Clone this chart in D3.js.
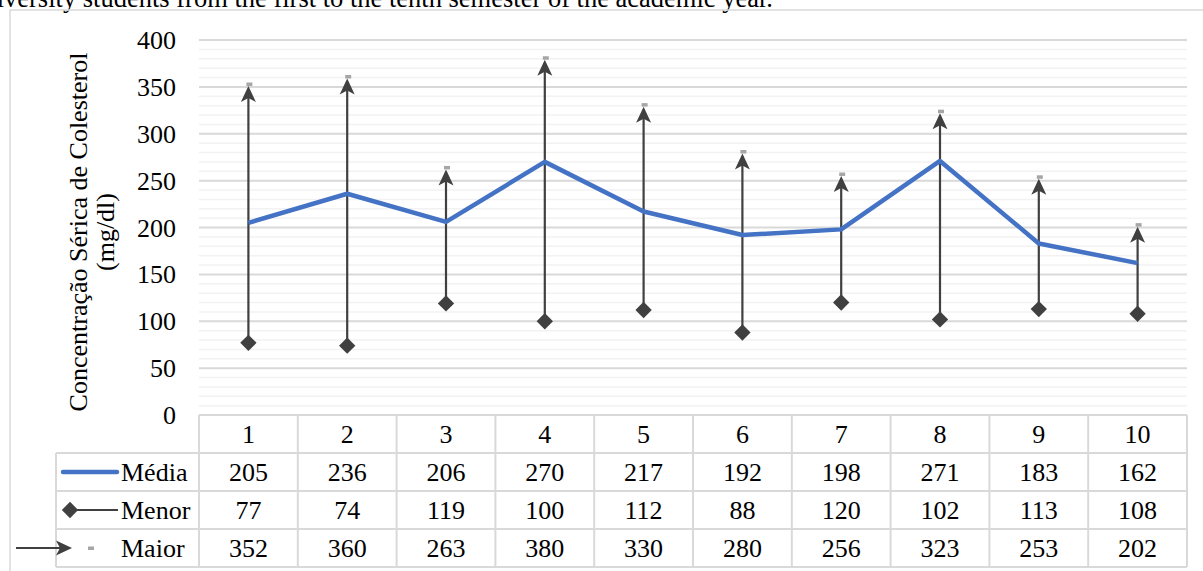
<!DOCTYPE html>
<html>
<head>
<meta charset="utf-8">
<script src="https://cdn.jsdelivr.net/npm/d3@7"></script>
<style>
  html, body { margin: 0; padding: 0; background: #fff; }
  svg { display: block; }
  text { font-family: "Liberation Serif", "Times New Roman", serif; fill: #000; }
</style>
</head>
<body>
<svg id="chart" width="1203" height="571"></svg>
<script>
// Semesters and cholesterol values (mg/dl)
const semesters = ["1", "2", "3", "4", "5", "6", "7", "8", "9", "10"];
const media = [205, 236, 206, 270, 217, 192, 198, 271, 183, 162];
const menor = [77, 74, 119, 100, 112, 88, 120, 102, 113, 108];
const maior = [352, 360, 263, 380, 330, 280, 256, 323, 253, 202];
const yTicks = [0, 50, 100, 150, 200, 250, 300, 350, 400];
const seriesNames = ["Média", "Menor", "Maior"];

const svg = d3.select("#chart");
const FONT = 26;
const SERIF = '"Liberation Serif", "Times New Roman", serif';
const plotLeft = 199, plotRight = 1187, plotTop = 40, plotBottom = 415;
const rowH = 38;

const x = d3.scaleBand().domain(semesters).range([plotLeft, plotRight]).padding(0);
const y = d3.scaleLinear().domain([0, 400]).range([plotBottom, plotTop]);

// caption line above the chart frame
svg.append("text")
  .attr("x", 773).attr("y", 7)
  .attr("text-anchor", "end")
  .style("font-size", "26.5px")
  .text("Table 1. Serum cholesterol concentration of university students from the first to the tenth semester of the academic year.");

// chart frame
svg.append("path")
  .attr("d", "M10,571 L10,10 L1203,10")
  .attr("fill", "none").attr("stroke", "#d9d9d9").attr("stroke-width", 1.5);

// gridlines: minor every 10, major every 50
const minor = d3.range(10, 401, 10).filter(v => v % 50 !== 0);
svg.append("g").selectAll("line").data(minor).join("line")
  .attr("x1", plotLeft).attr("x2", plotRight)
  .attr("y1", d => y(d)).attr("y2", d => y(d))
  .attr("stroke", "#f2f2f2").attr("stroke-width", 1.5);
svg.append("g").selectAll("line").data(yTicks.filter(v => v > 0)).join("line")
  .attr("x1", plotLeft).attr("x2", plotRight)
  .attr("y1", d => y(d)).attr("y2", d => y(d))
  .attr("stroke", "#d9d9d9").attr("stroke-width", 2);

// y axis labels
const yAxis = d3.axisLeft(y).tickValues(yTicks).tickSize(0).tickPadding(0);
const gy = svg.append("g").attr("transform", "translate(176,0)").call(yAxis);
gy.attr("font-family", SERIF);
gy.select(".domain").remove();
gy.selectAll("text")
  .style("font-family", SERIF)
  .style("font-size", FONT + "px").attr("fill", "#000").attr("dy", "0.33em");

// y axis title
const yt = svg.append("text")
  .attr("transform", "translate(0,232) rotate(-90)")
  .attr("text-anchor", "middle")
  .style("font-size", FONT + "px");
yt.append("tspan").attr("x", 0).attr("y", 87).text("Concentração Sérica de Colesterol");
yt.append("tspan").attr("x", 0).attr("y", 114).text("(mg/dl)");

const cx = d => x(d) + x.bandwidth() / 2;
const DARK = "#404040";
const arrowPath = "M0,0 L-7.5,16 L0,12 L7.5,16 Z";
const diamond = d3.symbol().type(d3.symbolDiamond2).size(170);

// whiskers from lowest to highest value
const whisk = svg.append("g");
whisk.selectAll("line").data(semesters).join("line")
  .attr("x1", cx).attr("x2", cx)
  .attr("y1", (d, i) => y(menor[i])).attr("y2", (d, i) => y(maior[i]) + 4)
  .attr("stroke", DARK).attr("stroke-width", 2.2);
whisk.selectAll("path.arrow").data(semesters).join("path")
  .attr("class", "arrow")
  .attr("d", arrowPath)
  .attr("transform", (d, i) => `translate(${cx(d)},${y(maior[i]) + 1})`)
  .attr("fill", DARK);
// Maior markers
whisk.selectAll("rect.maxmark").data(semesters).join("rect")
  .attr("class", "maxmark")
  .attr("x", d => cx(d) - 2).attr("y", (d, i) => y(maior[i]) - 2.5)
  .attr("width", 6).attr("height", 3.5)
  .attr("fill", "#a6a6a6");
// Menor markers
whisk.selectAll("path.minmark").data(semesters).join("path")
  .attr("class", "minmark")
  .attr("d", diamond)
  .attr("transform", (d, i) => `translate(${cx(d)},${y(menor[i])})`)
  .attr("fill", DARK);

// Média line
const line = d3.line().x((d, i) => cx(semesters[i])).y(d => y(d));
svg.append("path").datum(media)
  .attr("d", line)
  .attr("fill", "none").attr("stroke", "#4472C4").attr("stroke-width", 4.5)
  .attr("stroke-linejoin", "round");

// data table
const grid = "#d9d9d9";
const tbl = svg.append("g");
const tableTop = plotBottom;
const rowsTop = tableTop + rowH;
const tableBottom = rowsTop + rowH * 3;
const headLeft = 56;

// horizontal rules
tbl.append("line").attr("x1", plotLeft).attr("x2", plotRight)
  .attr("y1", tableTop).attr("y2", tableTop).attr("stroke", grid).attr("stroke-width", 2);
[0, 1, 2, 3].forEach(k => {
  tbl.append("line").attr("x1", headLeft).attr("x2", plotRight)
    .attr("y1", rowsTop + k * rowH).attr("y2", rowsTop + k * rowH)
    .attr("stroke", grid).attr("stroke-width", 2);
});
// vertical rules
const vEdges = semesters.map(d => x(d)).concat([plotRight]);
tbl.selectAll("line.v").data(vEdges).join("line")
  .attr("class", "v")
  .attr("x1", d => d).attr("x2", d => d)
  .attr("y1", tableTop).attr("y2", tableBottom)
  .attr("stroke", grid).attr("stroke-width", 2);
tbl.append("line").attr("x1", headLeft).attr("x2", headLeft)
  .attr("y1", rowsTop).attr("y2", tableBottom)
  .attr("stroke", grid).attr("stroke-width", 2);

// category header
tbl.selectAll("text.cat").data(semesters).join("text")
  .attr("class", "cat")
  .attr("x", cx).attr("y", tableTop + rowH / 2).attr("dy", "0.35em")
  .attr("text-anchor", "middle").style("font-size", FONT + "px")
  .text(d => d);

// value rows
[media, menor, maior].forEach((vals, r) => {
  tbl.selectAll("text.r" + r).data(vals).join("text")
    .attr("class", "r" + r)
    .attr("x", (d, i) => cx(semesters[i]))
    .attr("y", rowsTop + r * rowH + rowH / 2).attr("dy", "0.35em")
    .attr("text-anchor", "middle").style("font-size", FONT + "px")
    .text(d => d);
  tbl.append("text")
    .attr("x", 121).attr("y", rowsTop + r * rowH + rowH / 2).attr("dy", "0.35em")
    .style("font-size", FONT + "px")
    .text(seriesNames[r]);
});

// legend keys
const ly = r => rowsTop + r * rowH + rowH / 2;
tbl.append("line").attr("x1", 63).attr("x2", 117).attr("y1", ly(0)).attr("y2", ly(0))
  .attr("stroke", "#4472C4").attr("stroke-width", 4.5).attr("stroke-linecap", "round");
tbl.append("line").attr("x1", 70).attr("x2", 118).attr("y1", ly(1)).attr("y2", ly(1))
  .attr("stroke", DARK).attr("stroke-width", 2);
tbl.append("path").attr("d", diamond)
  .attr("transform", `translate(70,${ly(1)})`).attr("fill", DARK);
tbl.append("line").attr("x1", 16).attr("x2", 68).attr("y1", ly(2)).attr("y2", ly(2))
  .attr("stroke", DARK).attr("stroke-width", 2);
tbl.append("path").attr("d", arrowPath)
  .attr("transform", `translate(72,${ly(2)}) rotate(90)`).attr("fill", DARK);
tbl.append("rect").attr("x", 88).attr("y", ly(2) - 1.5).attr("width", 6).attr("height", 3.5)
  .attr("fill", "#a6a6a6");
</script>
</body>
</html>
